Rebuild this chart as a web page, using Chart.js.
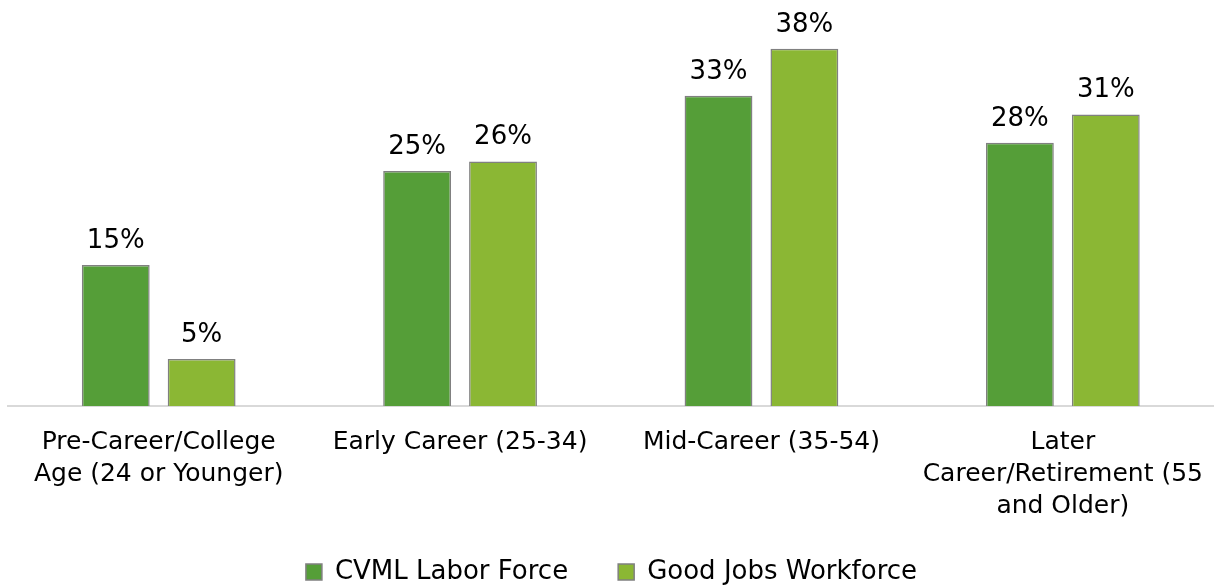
<!DOCTYPE html>
<html>
<head>
<meta charset="utf-8">
<script src="https://cdn.jsdelivr.net/npm/chart.js@4"></script>
<style>
  html, body { margin: 0; padding: 0; background: #fff; }
  #wrap { width: 1215px; height: 588px; }
</style>
</head>
<body>
<div id="wrap"><canvas id="chart"></canvas></div>
<script>
const categories = [
  ['Pre-Career/College', 'Age (24 or Younger)'],
  ['Early Career (25-34)'],
  ['Mid-Career (35-54)'],
  ['Later', 'Career/Retirement (55', 'and Older)']
];
const cvmlLaborForce = [15, 25, 33, 28];
const goodJobsWorkforce = [5, 26, 38, 31];
const seriesNames = ['CVML Labor Force', 'Good Jobs Workforce'];

const FONT = "'DejaVu Sans', sans-serif";

// value labels above each bar
const barLabels = {
  id: 'barLabels',
  afterDatasetsDraw(chart) {
    const ctx = chart.ctx;
    ctx.save();
    ctx.font = '26px ' + FONT;
    ctx.fillStyle = '#000';
    ctx.textAlign = 'center';
    ctx.textBaseline = 'bottom';
    chart.data.datasets.forEach((ds, i) => {
      chart.getDatasetMeta(i).data.forEach((bar, j) => {
        ctx.fillText(ds.data[j] + '%', bar.x, bar.y - 11);
      });
    });
    ctx.restore();
  }
};

// let the 3-line tick label run past the axis box, and nudge the legend down
const layoutTweaks = {
  id: 'layoutTweaks',
  afterLayout(chart) {
    chart.scales.x.bottom = chart.height;
    chart.legend.top += 7;
    chart.legend.bottom += 7;
  }
};

new Chart(document.getElementById('chart'), {
  type: 'bar',
  data: {
    labels: categories,
    datasets: [
      {
        label: seriesNames[0],
        data: cvmlLaborForce,
        backgroundColor: '#559e38',
        borderColor: '#808080',
        borderWidth: 1.5,
        borderSkipped: 'bottom'
      },
      {
        label: seriesNames[1],
        data: goodJobsWorkforce,
        backgroundColor: '#8bb734',
        borderColor: '#808080',
        borderWidth: 1.5,
        borderSkipped: 'bottom'
      }
    ]
  },
  options: {
    responsive: true,
    maintainAspectRatio: false,
    animation: false,
    layout: { padding: { top: 30, left: 8, right: 0, bottom: 0 } },
    datasets: {
      bar: { categoryPercentage: 0.57, barPercentage: 0.79 }
    },
    scales: {
      x: {
        grid: { display: false },
        border: { display: true, color: '#d9d9d9', width: 2 },
        ticks: {
          color: '#000',
          padding: 12,
          maxRotation: 0,
          autoSkip: false,
          font: { family: FONT, size: 25, lineHeight: 1.28 }
        },
        afterFit(scale) { scale.height = 96; }
      },
      y: {
        display: false,
        min: 0,
        max: 40
      }
    },
    plugins: {
      legend: {
        position: 'bottom',
        labels: {
          color: '#000',
          boxWidth: 16,
          boxHeight: 16,
          padding: 50,
          font: { family: FONT, size: 26 }
        }
      },
      tooltip: { enabled: false }
    }
  },
  plugins: [barLabels, layoutTweaks]
});
</script>
</body>
</html>
